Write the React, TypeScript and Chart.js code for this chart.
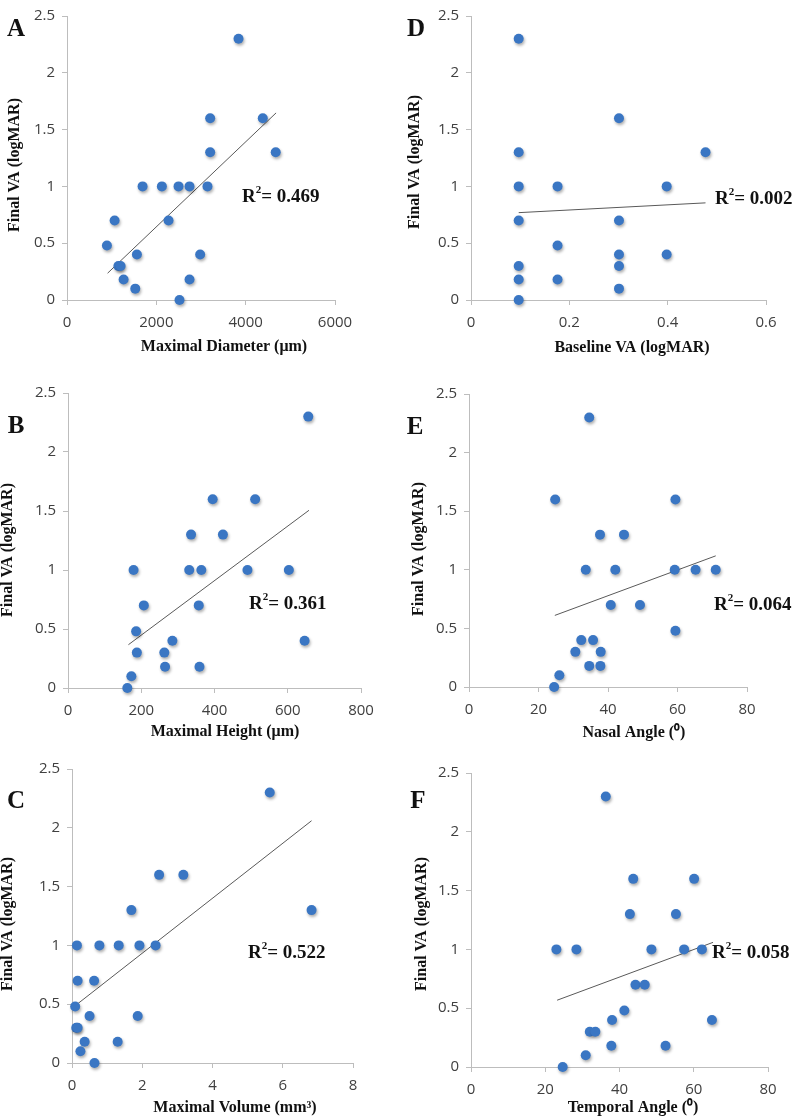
import React, { useEffect, useRef } from "react";
import { Chart, registerables } from "chart.js";

Chart.register(...registerables);

// ---------- Data ----------
const finalVA = [2.3, 1.6, 1.6, 1.3, 1.3, 1.0, 1.0, 1.0, 1.0, 1.0, 0.7, 0.7, 0.48, 0.4, 0.4, 0.3, 0.3, 0.18, 0.18, 0.1, 0];

const diameterUm = [3840, 3205, 4383, 3205, 4673, 1692, 2124, 2497, 2743, 3145, 1066, 2273, 894, 1565, 2981, 1150, 1200, 1267, 2743, 1528, 2519];
const heightUm = [656, 395, 511, 336, 423, 179, 331, 364, 490, 603, 207, 357, 186, 285, 646, 188, 263, 265, 359, 173, 162];
const volumeMm3 = [5.63, 2.48, 3.17, 1.69, 6.82, 0.14, 0.78, 1.33, 1.92, 2.38, 0.16, 0.63, 0.09, 0.5, 1.87, 0.12, 0.16, 0.36, 1.3, 0.24, 0.64];
const nasalAngle = [34.6, 24.8, 59.4, 37.7, 44.6, 33.6, 42.1, 59.2, 65.2, 71.0, 40.8, 49.2, 59.4, 32.3, 35.7, 30.6, 37.9, 34.6, 37.8, 26.0, 24.5];
const temporalAngle = [36.3, 43.7, 60.1, 42.8, 55.2, 23.0, 28.4, 48.6, 57.4, 62.2, 44.3, 46.8, 41.3, 38.0, 64.9, 32.0, 33.5, 37.8, 52.4, 30.9, 24.7];

const baselineVA = [0.097, 0.097, 0.097, 0.097, 0.097, 0.097, 0.097, 0.176, 0.176, 0.176, 0.301, 0.301, 0.301, 0.301, 0.301, 0.398, 0.398, 0.477];
const finalVAforBaseline = [2.3, 1.3, 1.0, 0.7, 0.3, 0.18, 0, 1.0, 0.48, 0.18, 1.6, 0.7, 0.4, 0.3, 0.1, 1.0, 0.4, 1.3];

// trendline end points
const trendA_x = [909, 4681];
const trendA_y = [0.236, 1.647];
const trendB_x = [165, 658];
const trendB_y = [0.367, 1.506];
const trendC_x = [0.03, 6.82];
const trendC_y = [0.473, 2.06];
const trendD_x = [0.097, 0.477];
const trendD_y = [0.769, 0.855];
const trendE_x = [24.7, 71.0];
const trendE_y = [0.611, 1.119];
const trendF_x = [23.2, 65.2];
const trendF_y = [0.568, 1.06];

const r2Values = ["0.469", "0.002", "0.361", "0.064", "0.522", "0.058"];
const yTicksMax = 2.5;
const yTickStep = 0.5;

// ---------- Styling ----------
const DOT = "#3a76c3";
const AXIS = "#bdbdbd";
const TICK_TEXT = "#404040";
const SERIF = '"Liberation Serif", "Times New Roman", serif';
const SANS = '"Open Sans", Lato, sans-serif';

type Rect = { l: number; t: number; r: number; b: number };
type Panel = {
  letter: string;
  xs: number[];
  ys: number[];
  tx: number[];
  ty: number[];
  xMax: number;
  xStep: number;
  xTitle: string;
  r2: string;
  canvas: Rect;
  plot: Rect;
  letterPos: [number, number];
  xTitlePos: [number, number];
  yTitlePos: [number, number];
  r2Pos: [number, number];
};

const panels: Panel[] = [
  {
    letter: "A", xs: diameterUm, ys: finalVA, tx: trendA_x, ty: trendA_y, xMax: 6000, xStep: 2000,
    xTitle: "Maximal Diameter (\u03bcm)", r2: r2Values[0],
    canvas: { l: 0, t: 0, r: 397, b: 362 }, plot: { l: 67, t: 7, r: 335, b: 300 },
    letterPos: [16, 30], xTitlePos: [224, 347], yTitlePos: [15, 165], r2Pos: [242, 197],
  },
  {
    letter: "D", xs: baselineVA, ys: finalVAforBaseline, tx: trendD_x, ty: trendD_y, xMax: 0.6, xStep: 0.2,
    xTitle: "Baseline VA (logMAR)", r2: r2Values[1],
    canvas: { l: 397, t: 0, r: 794, b: 362 }, plot: { l: 471, t: 7, r: 766, b: 300 },
    letterPos: [416, 30], xTitlePos: [632, 348], yTitlePos: [415, 162], r2Pos: [715, 199],
  },
  {
    letter: "B", xs: heightUm, ys: finalVA, tx: trendB_x, ty: trendB_y, xMax: 800, xStep: 200,
    xTitle: "Maximal Height (\u03bcm)", r2: r2Values[2],
    canvas: { l: 0, t: 375, r: 397, b: 745 }, plot: { l: 68, t: 393, r: 361, b: 688 },
    letterPos: [16, 427], xTitlePos: [225, 732], yTitlePos: [8, 550], r2Pos: [249, 604],
  },
  {
    letter: "E", xs: nasalAngle, ys: finalVA, tx: trendE_x, ty: trendE_y, xMax: 80, xStep: 20,
    xTitle: "Nasal Angle (\u2070)", r2: r2Values[3],
    canvas: { l: 397, t: 375, r: 794, b: 745 }, plot: { l: 469, t: 394, r: 747, b: 687 },
    letterPos: [415, 428], xTitlePos: [634, 733], yTitlePos: [419, 549], r2Pos: [714, 605],
  },
  {
    letter: "C", xs: volumeMm3, ys: finalVA, tx: trendC_x, ty: trendC_y, xMax: 8, xStep: 2,
    xTitle: "Maximal Volume (mm\u00b3)", r2: r2Values[4],
    canvas: { l: 0, t: 750, r: 397, b: 1117 }, plot: { l: 72, t: 769, r: 353, b: 1063 },
    letterPos: [16, 802], xTitlePos: [235, 1108], yTitlePos: [8, 924], r2Pos: [248, 953],
  },
  {
    letter: "F", xs: temporalAngle, ys: finalVA, tx: trendF_x, ty: trendF_y, xMax: 80, xStep: 20,
    xTitle: "Temporal Angle (\u2070)", r2: r2Values[5],
    canvas: { l: 397, t: 750, r: 794, b: 1117 }, plot: { l: 471, t: 773, r: 768, b: 1067 },
    letterPos: [418, 802], xTitlePos: [633, 1108], yTitlePos: [422, 924], r2Pos: [712, 953],
  },
];

const fmt = (v: number | string) => String(Math.round(Number(v) * 1000) / 1000);

const decorPlugin = {
  id: "decor",
  beforeDatasetDraw(chart: any, args: any) {
    if (args.index === 0) {
      const c = chart.ctx;
      c.save();
      c.shadowColor = "rgba(0,0,0,0.32)";
      c.shadowBlur = 3;
      c.shadowOffsetX = 1;
      c.shadowOffsetY = 2;
    }
  },
  afterDatasetDraw(chart: any, args: any) {
    if (args.index === 0) chart.ctx.restore();
  },
  afterDraw(chart: any, _args: any, o: any) {
    const ctx = chart.ctx;
    const ox = o.ox;
    const oy = o.oy;
    ctx.save();
    ctx.fillStyle = "#111";
    ctx.textBaseline = "middle";
    ctx.textAlign = "center";
    // panel letter
    ctx.font = `bold 25px ${SERIF}`;
    ctx.fillText(o.letter, o.letterPos[0] - ox, o.letterPos[1] - oy);
    // x title
    ctx.font = `bold 16px ${SERIF}`;
    ctx.fillText(o.xTitle, o.xTitlePos[0] - ox, o.xTitlePos[1] - oy);
    // y title
    ctx.save();
    ctx.translate(o.yTitlePos[0] - ox, o.yTitlePos[1] - oy);
    ctx.rotate(-Math.PI / 2);
    ctx.fillText(o.yTitle, 0, 0);
    ctx.restore();
    // R^2 label
    ctx.textAlign = "left";
    let x = o.r2Pos[0] - ox;
    const y = o.r2Pos[1] - oy;
    ctx.font = `bold 19px ${SERIF}`;
    ctx.fillText("R", x, y);
    x += ctx.measureText("R").width;
    ctx.font = `bold 11px ${SERIF}`;
    ctx.fillText("2", x, y - 7);
    x += ctx.measureText("2").width;
    ctx.font = `bold 19px ${SERIF}`;
    ctx.fillText("= " + o.r2, x, y);
    ctx.restore();
  },
};

function ScatterPanel({ p }: { p: Panel }) {
  const ref = useRef<HTMLCanvasElement | null>(null);
  useEffect(() => {
    if (!ref.current) return;
    const c = p.canvas;
    const leftW = p.plot.l - c.l;
    const bottomH = c.b - p.plot.b;
    const chart = new Chart(ref.current, {
      type: "scatter",
      data: {
        datasets: [
          {
            data: p.xs.map((x, i) => ({ x, y: p.ys[i] })),
            backgroundColor: DOT,
            borderColor: DOT,
            borderWidth: 0,
            pointRadius: 5,
            pointHoverRadius: 5,
            clip: false,
            order: 0,
          } as any,
          {
            type: "line",
            data: p.tx.map((x, i) => ({ x, y: p.ty[i] })),
            borderColor: "#595959",
            borderWidth: 1,
            pointRadius: 0,
            showLine: true,
            fill: false,
            clip: false,
            order: 1,
          } as any,
        ],
      },
      options: {
        animation: false,
        responsive: false,
        events: [],
        layout: {
          autoPadding: false,
          padding: { left: 0, top: p.plot.t - c.t, right: c.r - p.plot.r, bottom: 0 },
        },
        plugins: {
          legend: { display: false },
          tooltip: { enabled: false },
          decor: {
            ox: c.l,
            oy: c.t,
            letter: p.letter,
            letterPos: p.letterPos,
            xTitle: p.xTitle,
            xTitlePos: p.xTitlePos,
            yTitle: "Final VA (logMAR)",
            yTitlePos: p.yTitlePos,
            r2: p.r2,
            r2Pos: p.r2Pos,
          },
        } as any,
        scales: {
          x: {
            type: "linear",
            min: 0,
            max: p.xMax,
            ticks: { stepSize: p.xStep, padding: 9, color: TICK_TEXT, font: { family: SANS, size: 15 }, callback: (v: any) => fmt(v) },
            grid: { drawOnChartArea: false, drawTicks: true, tickLength: 5, color: AXIS },
            border: { display: true, color: AXIS, width: 1 },
            afterFit: (s: any) => { s.height = bottomH; },
          },
          y: {
            type: "linear",
            min: 0,
            max: yTicksMax,
            ticks: { stepSize: yTickStep, padding: 7, color: TICK_TEXT, font: { family: SANS, size: 15 }, callback: (v: any) => fmt(v) },
            grid: { drawOnChartArea: false, drawTicks: true, tickLength: 5, color: AXIS },
            border: { display: true, color: AXIS, width: 1 },
            afterFit: (s: any) => { s.width = leftW; },
          },
        } as any,
      },
      plugins: [decorPlugin as any],
    });
    return () => chart.destroy();
  }, [p]);
  const c = p.canvas;
  return (
    <canvas
      ref={ref}
      width={c.r - c.l}
      height={c.b - c.t}
      style={{ position: "absolute", left: c.l, top: c.t, width: c.r - c.l, height: c.b - c.t }}
    />
  );
}

export default function App() {
  return (
    <div style={{ position: "absolute", left: 0, top: 0, width: 794, height: 1117, overflow: "hidden", background: "#fff" }}>
      {panels.map((p) => (
        <ScatterPanel key={p.letter} p={p} />
      ))}
    </div>
  );
}
